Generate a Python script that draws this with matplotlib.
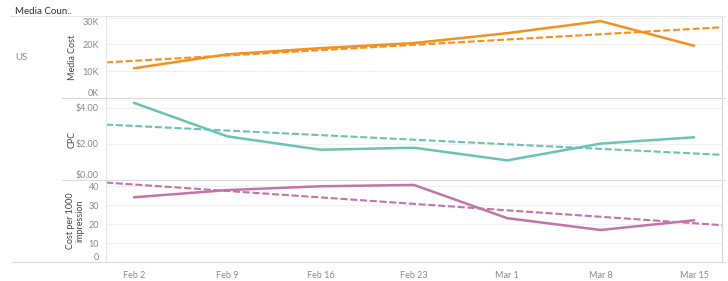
import numpy as np
import matplotlib
matplotlib.use('Agg')
import matplotlib.pyplot as plt
from matplotlib.lines import Line2D
from matplotlib.ticker import FuncFormatter

weeks = ['Feb 2', 'Feb 9', 'Feb 16', 'Feb 23', 'Mar 1', 'Mar 8', 'Mar 15']
media_cost = [11100, 16300, 18600, 20500, 24200, 28700, 19500]
cpc = [4.28, 2.42, 1.68, 1.79, 1.09, 2.02, 2.37]
cpm = [34.2, 38.0, 40.0, 40.7, 23.2, 17.0, 22.1]

plt.rcParams['font.family'] = ['Lato', 'DejaVu Sans']

W, H = 728, 281
fig = plt.figure(figsize=(W / 100, H / 100), dpi=100)

left, right = 106, 722
rows = [(16, 98), (98, 180), (180, 262.3)]

panels = [
    ('Media Cost', media_cost, '#f7901e', (0, 30600), [0, 10000, 20000, 30000],
     lambda v, p: '{:.0f}K'.format(v / 1000)),
    ('CPC', cpc, '#6cc3b4', (0, 4.55), [0, 2, 4],
     lambda v, p: '${:.2f}'.format(v)),
    ('Cost per 1000\nimpression', cpm, '#c275a8', (0, 43.3), [0, 10, 20, 30, 40],
     lambda v, p: '{:.0f}'.format(v)),
]

x = np.arange(len(weeks))
xt = np.array([-0.3, len(weeks) - 0.7])
grey = '#8a8a8a'

for i, (title, vals, color, ylim, ticks, fmt) in enumerate(panels):
    top, bot = rows[i]
    ax = fig.add_axes([left / W, 1 - bot / H, (right - left) / W, (bot - top) / H])
    ax.plot(x, vals, color=color, lw=1.8, solid_capstyle='round')
    # trend line (least squares), spans the whole axis like the original
    k, b = np.polyfit(x, vals, 1)
    ax.plot(xt, k * xt + b, color=color, lw=1.5, dashes=(3.4, 1.3))
    ax.set_xlim(xt)
    ax.set_ylim(ylim)
    ax.set_yticks(ticks)
    ax.yaxis.set_major_formatter(FuncFormatter(fmt))
    ax.grid(axis='y', color='#f0f0f0', lw=0.8)
    ax.set_axisbelow(True)
    for s in ax.spines.values():
        s.set_visible(False)
    ax.spines['left'].set_visible(True)
    ax.spines['left'].set_color('#e6e6e6')
    ax.spines['right'].set_visible(True)
    ax.spines['right'].set_color('#d9d9d9')
    ax.tick_params(axis='y', length=0, labelsize=6.5, labelcolor=grey, pad=5)
    labels = ax.get_yticklabels()
    labels[0].set_verticalalignment('bottom')
    if i == 0:
        labels[-1].set_verticalalignment('top')
    ax.set_xticks(x)
    if i == 2:
        ax.set_xticklabels(weeks)
        ax.tick_params(axis='x', length=0, labelsize=6.5, labelcolor=grey, pad=6)
    else:
        ax.set_xticklabels([])
        ax.tick_params(axis='x', length=0)
    cy = 1 - (top + bot) / 2 / H
    tx = 72.5 if i < 2 else 75
    fig.text(tx / W, cy, title, rotation=90, ha='center', va='center',
             fontsize=6.5, color='#444444', linespacing=1.0)

# separators and frame
for y in [98, 180]:
    fig.add_artist(Line2D([62 / W, 725 / W], [1 - y / H] * 2, color='#dcdcdc', lw=0.8))
fig.add_artist(Line2D([10 / W, 725 / W], [1 - 16 / H] * 2, color='#e6e6e6', lw=0.8))
fig.add_artist(Line2D([12 / W, 725 / W], [1 - 262.3 / H] * 2, color='#dcdcdc', lw=0.8))

fig.text(15 / W, 1 - 11 / H, 'Media Coun..', fontsize=7, color='#333333',
         va='center', ha='left')
fig.text(15 / W, 1 - 57 / H, 'US', fontsize=7, color=grey, va='center', ha='left')

fig.savefig('out.png', dpi=100, facecolor='white')
